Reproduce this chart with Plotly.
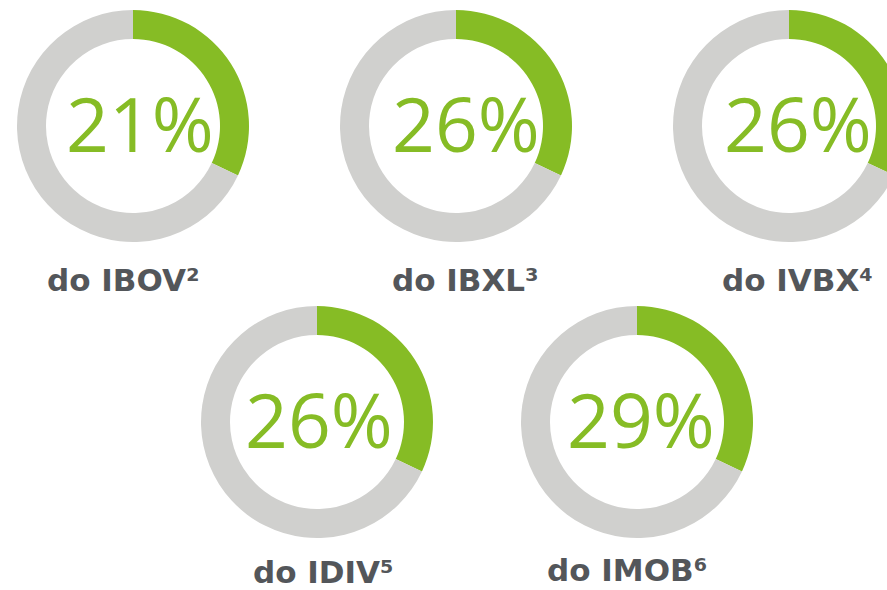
import plotly.graph_objects as go

# ---- data ----
index_names = ["do IBOV²", "do IBXL³", "do IVBX⁴", "do IDIV⁵", "do IMOB⁶"]
pct_values = [21, 26, 26, 26, 29]          # printed percentages
ring_filled = [32, 32, 32, 32, 32]         # share of the ring drawn green (as seen)
ring_rest = [100 - v for v in ring_filled]

# ---- layout (pixels) ----
W, H = 1000, 590
R = 116
centers = [(133, 126), (456, 126), (789, 126), (317, 422), (637, 422)]
pct_x = [140, 466, 798, 319, 641]
label_pos = [(123, 280), (465, 280), (797, 280), (323, 572), (627, 570)]

GREEN = "#86BC25"
GRAY = "#D0D0CE"
TEXT = "#53565A"

fig = go.Figure()
for i, (cx, cy) in enumerate(centers):
    fig.add_trace(go.Pie(
        values=[ring_filled[i], ring_rest[i]],
        labels=["filled", "rest"],
        hole=0.75,
        sort=False,
        direction="clockwise",
        rotation=0,
        marker=dict(colors=[GREEN, GRAY], line=dict(width=0)),
        textinfo="none",
        hoverinfo="skip",
        showlegend=False,
        domain=dict(x=[(cx - R) / W, (cx + R) / W],
                    y=[1 - (cy + R) / H, 1 - (cy - R) / H]),
    ))
    fig.add_annotation(
        x=pct_x[i] / W, y=1 - (cy - 3) / H, xref="paper", yref="paper",
        text=f"{pct_values[i]}%", showarrow=False,
        xanchor="center", yanchor="middle",
        font=dict(family="Open Sans", size=75, color=GREEN),
    )
    lx, ly = label_pos[i]
    fig.add_annotation(
        x=lx / W, y=1 - ly / H, xref="paper", yref="paper",
        text="<b>" + index_names[i] + "</b>", showarrow=False,
        xanchor="center", yanchor="middle",
        font=dict(family="DejaVu Sans, Verdana, sans-serif", size=31, color=TEXT),
    )

fig.update_layout(
    width=W, height=H,
    margin=dict(l=0, r=0, t=0, b=0),
    paper_bgcolor="white", plot_bgcolor="white",
)

fig.write_html(
    "out.html",
    post_script="document.documentElement.style.overflow='hidden';"
                "document.body.style.overflow='hidden';"
                "document.body.style.margin='0';",
)
